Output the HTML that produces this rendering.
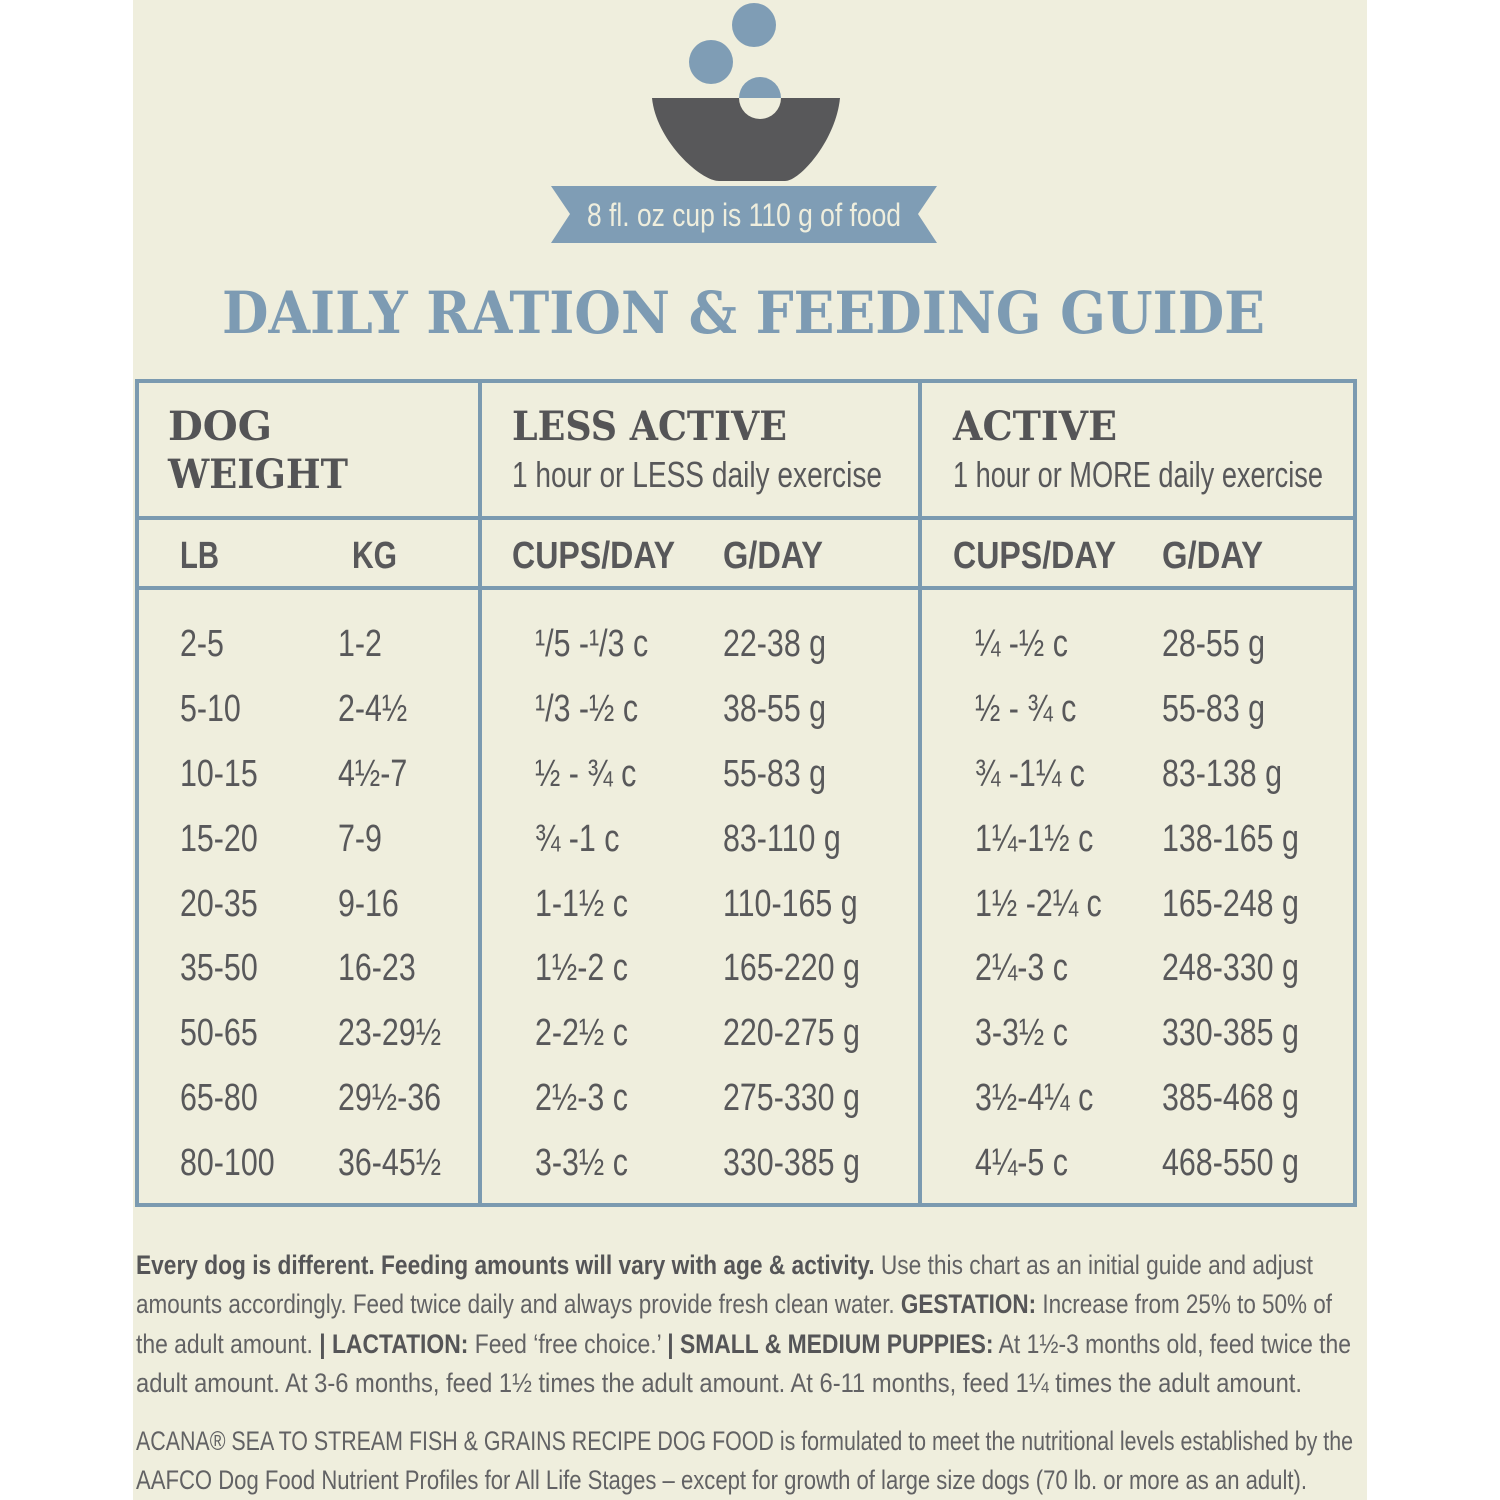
<!DOCTYPE html>
<html><head><meta charset="utf-8"><style>
html,body{margin:0;padding:0;background:#fff;}
svg{display:block;}
.n{font-family:"Liberation Sans Narrow","Liberation Sans",sans-serif;fill:#58585a;}
.s{font-family:"DejaVu Serif","Liberation Serif",serif;font-weight:bold;fill:#545456;}
.d{font-family:"Liberation Sans",sans-serif;font-size:38px;fill:#58585a;}
.h{font-size:38px;font-weight:bold;}
.f{font-size:27px;fill:#626264;}
.b{font-weight:bold;fill:#555557;}
</style></head><body>
<svg width="1500" height="1500" viewBox="0 0 1500 1500" xmlns="http://www.w3.org/2000/svg">
<rect x="133" y="0" width="1234" height="1500" fill="#efeedd"/>
<circle cx="754" cy="25" r="22" fill="#7f9db5"/>
<circle cx="711" cy="62" r="22" fill="#7f9db5"/>
<path d="M652 98 L840 98 C836 140 800 181 785 181 L719 181 C700 181 656 140 652 98 Z" fill="#58585a"/>
<path d="M739 98 A21 21 0 0 1 781 98 Z" fill="#7f9db5"/>
<path d="M739 98 A21 21 0 0 0 781 98 Z" fill="#efeedd"/>
<polygon points="551,186 937,186 918,214 937,243 551,243 570,214" fill="#7f9db5"/>
<text class="n" x="587" y="226" font-size="32" style="fill:#efeedd" textLength="314" lengthAdjust="spacingAndGlyphs">8 fl. oz cup is 110 g of food</text>
<text class="s" x="222" y="333" font-size="58" style="fill:#7d9bb3" textLength="1043" lengthAdjust="spacingAndGlyphs">DAILY RATION &amp; FEEDING GUIDE</text>
<g stroke="#7b9ab0" stroke-width="4" fill="none">
<rect x="137" y="381" width="1218" height="824"/>
<line x1="480" y1="381" x2="480" y2="1205"/>
<line x1="920" y1="381" x2="920" y2="1205"/>
<line x1="137" y1="518" x2="1355" y2="518"/>
<line x1="137" y1="588" x2="1355" y2="588"/>
</g>
<text class="s" x="168" y="440" font-size="40" textLength="104" lengthAdjust="spacingAndGlyphs">DOG</text>
<text class="s" x="168" y="488" font-size="40" textLength="180" lengthAdjust="spacingAndGlyphs">WEIGHT</text>
<text class="s" x="512" y="440" font-size="40" textLength="275" lengthAdjust="spacingAndGlyphs">LESS ACTIVE</text>
<text class="s" x="953" y="440" font-size="40" textLength="164" lengthAdjust="spacingAndGlyphs">ACTIVE</text>
<text class="n" x="512" y="487" font-size="36" textLength="370" lengthAdjust="spacingAndGlyphs">1 hour or LESS daily exercise</text>
<text class="n" x="953" y="487" font-size="36" textLength="370" lengthAdjust="spacingAndGlyphs">1 hour or MORE daily exercise</text>
<g class="n h">
<text x="180" y="568" textLength="39" lengthAdjust="spacingAndGlyphs">LB</text>
<text x="352" y="568" textLength="45" lengthAdjust="spacingAndGlyphs">KG</text>
<text x="512" y="568" textLength="163" lengthAdjust="spacingAndGlyphs">CUPS/DAY</text>
<text x="723" y="568" textLength="100" lengthAdjust="spacingAndGlyphs">G/DAY</text>
<text x="953" y="568" textLength="163" lengthAdjust="spacingAndGlyphs">CUPS/DAY</text>
<text x="1162" y="568" textLength="101" lengthAdjust="spacingAndGlyphs">G/DAY</text>
</g>
<g class="d" transform="translate(180,0) scale(0.8,1)">
<text y="656">2-5</text><text y="721">5-10</text><text y="786">10-15</text><text y="851">15-20</text><text y="916">20-35</text><text y="980">35-50</text><text y="1045">50-65</text><text y="1110">65-80</text><text y="1175">80-100</text>
</g>
<g class="d" transform="translate(338,0) scale(0.8,1)">
<text y="656">1-2</text><text y="721">2-4½</text><text y="786">4½-7</text><text y="851">7-9</text><text y="916">9-16</text><text y="980">16-23</text><text y="1045">23-29½</text><text y="1110">29½-36</text><text y="1175">36-45½</text>
</g>
<g class="d" transform="translate(535,0) scale(0.8,1)">
<text y="656">¹/5 -¹/3 c</text><text y="721">¹/3 -½ c</text><text y="786">½ - ¾ c</text><text y="851">¾ -1 c</text><text y="916">1-1½ c</text><text y="980">1½-2 c</text><text y="1045">2-2½ c</text><text y="1110">2½-3 c</text><text y="1175">3-3½ c</text>
</g>
<g class="d" transform="translate(723,0) scale(0.8,1)">
<text y="656">22-38 g</text><text y="721">38-55 g</text><text y="786">55-83 g</text><text y="851">83-110 g</text><text y="916">110-165 g</text><text y="980">165-220 g</text><text y="1045">220-275 g</text><text y="1110">275-330 g</text><text y="1175">330-385 g</text>
</g>
<g class="d" transform="translate(975,0) scale(0.8,1)">
<text y="656">¼ -½ c</text><text y="721">½ - ¾ c</text><text y="786">¾ -1¼ c</text><text y="851">1¼-1½ c</text><text y="916">1½ -2¼ c</text><text y="980">2¼-3 c</text><text y="1045">3-3½ c</text><text y="1110">3½-4¼ c</text><text y="1175">4¼-5 c</text>
</g>
<g class="d" transform="translate(1162,0) scale(0.8,1)">
<text y="656">28-55 g</text><text y="721">55-83 g</text><text y="786">83-138 g</text><text y="851">138-165 g</text><text y="916">165-248 g</text><text y="980">248-330 g</text><text y="1045">330-385 g</text><text y="1110">385-468 g</text><text y="1175">468-550 g</text>
</g>
<g class="n f">
<text x="136" y="1274" textLength="1177" lengthAdjust="spacingAndGlyphs"><tspan class="b">Every dog is different. Feeding amounts will vary with age &amp; activity.</tspan> Use this chart as an initial guide and adjust</text>
<text x="136" y="1313" textLength="1196" lengthAdjust="spacingAndGlyphs">amounts accordingly. Feed twice daily and always provide fresh clean water. <tspan class="b">GESTATION:</tspan> Increase from 25% to 50% of</text>
<text x="136" y="1353" textLength="1215" lengthAdjust="spacingAndGlyphs">the adult amount. <tspan class="b">| LACTATION:</tspan> Feed ‘free choice.’ <tspan class="b">| SMALL &amp; MEDIUM PUPPIES:</tspan> At 1½-3 months old, feed twice the</text>
<text x="136" y="1392" textLength="1166" lengthAdjust="spacingAndGlyphs">adult amount. At 3-6 months, feed 1½ times the adult amount. At 6-11 months, feed 1¼ times the adult amount.</text>
<text x="136" y="1450" textLength="1217" lengthAdjust="spacingAndGlyphs">ACANA® SEA TO STREAM FISH &amp; GRAINS RECIPE DOG FOOD is formulated to meet the nutritional levels established by the</text>
<text x="136" y="1489" textLength="1171" lengthAdjust="spacingAndGlyphs">AAFCO Dog Food Nutrient Profiles for All Life Stages – except for growth of large size dogs (70 lb. or more as an adult).</text>
</g>
</svg>
</body></html>
